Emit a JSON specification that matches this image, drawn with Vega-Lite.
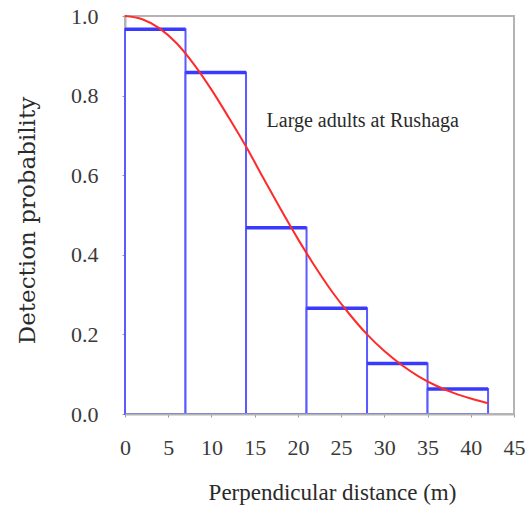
{
  "$schema": "https://vega.github.io/schema/vega-lite/v6.json",
  "autosize": "none",
  "width": 389,
  "height": 398,
  "padding": {"left": 125, "top": 16, "right": 15, "bottom": 95},
  "background": "white",
  "config": {
    "view": {"stroke": "#b4b4b4", "strokeWidth": 2},
    "axis": {
      "grid": false,
      "domainColor": "#b4b4b4",
      "domainWidth": 2,
      "tickColor": "#9a9a9a",
      "tickSize": 3,
      "labelFont": "Liberation Serif, Times New Roman, serif",
      "labelFontSize": 22,
      "labelColor": "#3a3a3a",
      "titleColor": "#2a2a2a",
      "titleFontWeight": "normal"
    }
  },
  "datasets": {
    "bins": [
      {"start": 0, "end": 7, "prob": 0.967},
      {"start": 7, "end": 14, "prob": 0.858},
      {"start": 14, "end": 21, "prob": 0.468},
      {"start": 21, "end": 28, "prob": 0.266},
      {"start": 28, "end": 35, "prob": 0.127},
      {"start": 35, "end": 42, "prob": 0.063}
    ],
    "curve": [
      {"d": 0, "g": 1.0}, {"d": 2, "g": 0.992}, {"d": 4, "g": 0.969}, {"d": 6, "g": 0.931},
      {"d": 8, "g": 0.878}, {"d": 10, "g": 0.815}, {"d": 12, "g": 0.745}, {"d": 14, "g": 0.672},
      {"d": 16, "g": 0.593}, {"d": 18, "g": 0.515}, {"d": 20, "g": 0.440}, {"d": 22, "g": 0.370},
      {"d": 24, "g": 0.306}, {"d": 26, "g": 0.250}, {"d": 28, "g": 0.200}, {"d": 30, "g": 0.158},
      {"d": 32, "g": 0.123}, {"d": 34, "g": 0.094}, {"d": 36, "g": 0.071}, {"d": 38, "g": 0.053},
      {"d": 40, "g": 0.039}, {"d": 42, "g": 0.027}
    ],
    "note": [{"label": "Large adults at Rushaga"}]
  },
  "layer": [
    {
      "data": {"name": "bins"},
      "mark": {"type": "rect", "fill": "white", "stroke": "#5a5aff", "strokeWidth": 2},
      "encoding": {
        "x": {
          "field": "start", "type": "quantitative",
          "scale": {"domain": [0, 45], "nice": false, "zero": false},
          "axis": {
            "values": [0, 5, 10, 15, 20, 25, 30, 35, 40, 45],
            "title": "Perpendicular distance (m)",
            "titleFont": "Liberation Serif, Times New Roman, serif",
            "titleFontSize": 23,
            "titleX": 207,
            "titleY": 78,
            "titleBaseline": "middle",
            "labelPadding": 20,
            "labelFlush": false,
            "zindex": 1
          }
        },
        "x2": {"field": "end"},
        "y": {
          "field": "prob", "type": "quantitative",
          "scale": {"domain": [0, 1], "nice": false},
          "axis": {
            "values": [0, 0.1, 0.2, 0.3, 0.4, 0.5, 0.6, 0.7, 0.8, 0.9, 1.0],
            "labelExpr": "round(datum.value*10) % 2 == 0 ? format(datum.value, '.1f') : ''",
            "title": "Detection probability",
            "titleFont": "DejaVu Serif, serif",
            "titleFontSize": 23,
            "titleAngle": 270,
            "titleX": -98,
            "titleY": 204,
            "titleBaseline": "middle",
            "labelPadding": 24,
            "labelFlush": false
          }
        },
        "y2": {"datum": 0}
      }
    },
    {
      "data": {"name": "bins"},
      "mark": {"type": "rule", "stroke": "#3a3aff", "strokeWidth": 3.5},
      "encoding": {
        "x": {"field": "start", "type": "quantitative"},
        "x2": {"field": "end"},
        "y": {"field": "prob", "type": "quantitative"}
      }
    },
    {
      "data": {"name": "curve"},
      "mark": {"type": "line", "color": "#ff2a2a", "strokeWidth": 2, "interpolate": "monotone"},
      "encoding": {
        "x": {"field": "d", "type": "quantitative"},
        "y": {"field": "g", "type": "quantitative"}
      }
    },
    {
      "data": {"name": "note"},
      "mark": {"type": "text", "font": "Liberation Serif, Times New Roman, serif", "fontSize": 20, "color": "#2a2a2a", "align": "center", "baseline": "middle"},
      "encoding": {
        "x": {"datum": 27.5},
        "y": {"datum": 0.735},
        "text": {"field": "label"}
      }
    }
  ]
}
